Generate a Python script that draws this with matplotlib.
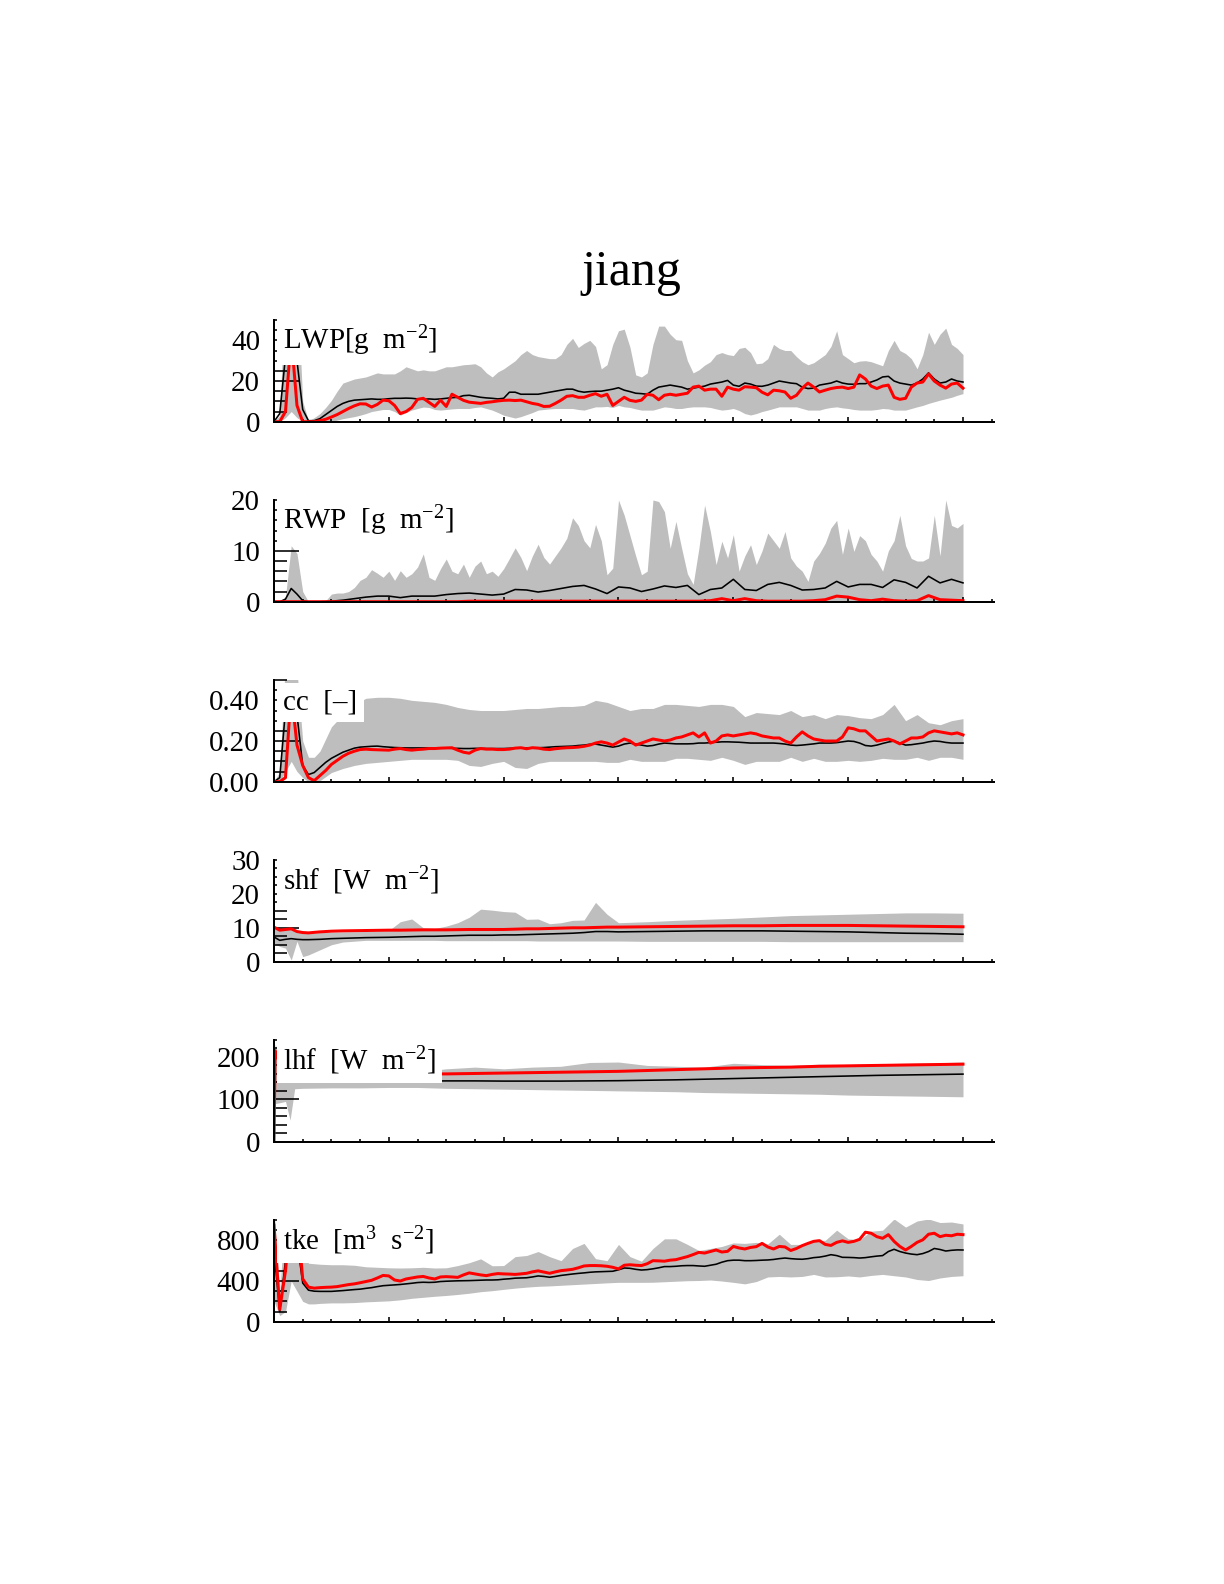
import numpy as np
import matplotlib.pyplot as plt
from matplotlib.ticker import MultipleLocator, FixedLocator, FormatStrFormatter, NullFormatter

plt.rcParams['font.family'] = ['Liberation Serif', 'DejaVu Serif']
plt.rcParams['mathtext.fontset'] = 'custom'
plt.rcParams['mathtext.rm'] = 'Liberation Serif'
plt.rcParams['mathtext.it'] = 'Liberation Serif:italic'

# ----------------------------
# time axes [h]
# ----------------------------
t_early = [0.0, 0.05, 0.1, 0.15, 0.2, 0.25, 0.3, 0.35, 0.4]
t_late = [round(0.5 + 0.1 * i, 2) for i in range(56)]
t = np.array(t_early + t_late)            # 0.1 h steps after 0.5 h
t_fine = np.round(np.arange(121) * 0.05, 2)   # 0.05 h steps
t_shf = [0, 0.05, 0.1, 0.15, 0.2, 0.25, 0.3, 0.4, 0.5, 0.6, 0.8,
         1.0, 1.1, 1.2, 1.3, 1.4, 1.5, 1.6, 1.7, 1.8, 1.9, 2.0, 2.1, 2.2, 2.3, 2.4,
         2.5, 2.6, 2.7, 2.8, 2.9, 3.0,
         3.25, 3.5, 3.75, 4.0, 4.25, 4.5, 4.75, 5.0, 5.25, 5.5, 5.75, 6.0]
t_lhf = [0, 0.01, 0.05, 0.1, 0.14, 0.18, 0.25, 0.5, 0.75, 1.0, 1.25, 1.5, 1.75, 2.0,
         2.25, 2.5, 2.75, 3.0, 3.25, 3.5, 3.75, 4.0, 4.25, 4.5, 4.75, 5.0, 5.25,
         5.5, 5.75, 6.0]

# ----------------------------
# LWP [g m-2]  (fine grid)
# ----------------------------
lwp_max = [0, 3, 70, 80, 70, 10, 0.5, 2, 4, 7,
           10.5, 15, 19, 20, 21, 21.5, 22, 23, 24, 23.5,
           23.5, 23.5, 25, 27, 26, 25, 25.5, 25, 25, 26,
           27, 27, 27.5, 28, 28.2, 28.5, 27, 24, 22, 24.5,
           26, 28, 30, 33, 35, 33, 32, 31.5, 31, 31,
           33, 38, 41, 36.5, 38.5, 40, 37, 26, 28, 38,
           44.7, 45.5, 36.6, 23, 22, 24, 38, 47, 47, 43,
           40.3, 40, 30, 24, 25.5, 27.8, 29.5, 33, 34, 33,
           32.5, 36, 36.6, 34, 28.5, 28.8, 31, 38, 36, 35,
           35, 32, 29.5, 28, 29, 31, 33, 37, 44.7, 33,
           31, 29, 29.8, 30, 29.5, 28.5, 27.5, 35, 40, 35,
           33.5, 31, 26, 33, 44, 38, 43, 46, 38, 36,
           33]
lwp_min = [0, 0, 2, 5, 2, 0, 0, 0, 0, 0,
           0, 0.8, 1.5, 2, 2.5, 3.2, 4, 5, 5.5, 6,
           6, 5, 3.2, 4.5, 5.7, 6.5, 7.2, 7, 6, 5.7,
           6, 6.3, 6.5, 6.5, 6.5, 7, 7.3, 6.5, 5.7, 4.5,
           3.2, 2.5, 1.8, 2.5, 3.5, 4.5, 5.7, 6, 6.3, 6.5,
           6.5, 6.5, 6.5, 6, 5.7, 6.5, 7.3, 7.3, 7.5, 7,
           8, 7.3, 7, 6.3, 5.7, 5.7, 5.7, 6.5, 7.3, 7,
           6.5, 6.5, 7, 7.3, 7.3, 7.3, 7, 6.3, 5.7, 6,
           6.5, 5.5, 4, 3.3, 4, 5, 5.7, 6.5, 7.3, 7.3,
           7.3, 7.3, 6.5, 5.7, 5.7, 5.7, 6.5, 7, 7.3, 6.8,
           6.5, 6, 5.7, 5.7, 5.7, 6, 6.5, 6.3, 5.7, 5.7,
           5.7, 6.5, 7.3, 8, 9, 9.8, 10.6, 11.3, 12, 13,
           13.8]
lwp_mean = [0, 4, 32, 42, 30, 6, 0.5, 0.5, 1.5, 3.5,
            5.5, 7.5, 9, 10, 10.6, 10.8, 11, 11.2, 11, 11,
            11.3, 11.5, 11.5, 11.6, 11.5, 11.2, 11, 11.2, 11, 11.2,
            11.5, 11.8, 12, 12.8, 13, 12.5, 12, 11.7, 11.5, 11.2,
            11.5, 14.5, 14.5, 13.5, 13.5, 13.5, 13.5, 14, 14.5, 15,
            15.5, 16, 16, 15, 14.5, 14.8, 15, 15, 15.5, 16,
            16.7, 15.5, 14.8, 14, 13.8, 13.5, 15.5, 17, 17.5, 18,
            17.5, 17, 16, 16.5, 17, 17.5, 18.5, 19, 19.5, 20.3,
            18, 17.4, 19, 18.5, 17.5, 17.4, 18, 19, 20, 19.5,
            19, 18.7, 17, 16.3, 16.5, 18, 18.5, 19, 20, 19,
            18.5, 18.4, 18.7, 18.7, 19.5, 20.5, 22, 22.3, 20, 19,
            18.5, 18, 19, 21, 24, 21, 19, 19.5, 21, 20,
            19.5]
lwp_model = [0, 0, 5, 42, 8, 0, 0, 0, 0.5, 1.2,
             2.3, 3.5, 5, 6.5, 7.8, 8.8, 8.7, 7.2, 8.5, 10.6,
             10.3, 8, 4, 5, 7, 11, 11.5, 9.5, 7.5, 10.6,
             7.5, 13.5, 12, 10.5, 9.6, 9.3, 9, 9.5, 9.8, 10.2,
             10.5, 10.6, 10.4, 10.6, 9.8, 9, 8.5, 7.5, 7.6, 9,
             10.6, 12.5, 12.8, 12, 12, 13, 13.8, 12.5, 13.5, 8,
             10, 12, 10.5, 10, 10.6, 13.5, 13, 10.8, 13, 13.5,
             13, 13.5, 14, 17, 17.5, 15.5, 16, 16, 12.5, 17,
             16, 15.5, 17.2, 17, 16.7, 14.5, 13.2, 15.5, 15.2, 14.6,
             11.5, 13, 16.5, 19, 17, 14.6, 15.5, 16.3, 16.8, 17,
             16.3, 17, 23, 21, 17.5, 16.3, 17.5, 18, 12, 11,
             11.5, 17, 19, 19.5, 23.5, 20, 18, 16.5, 18.5, 19,
             16.5]

# ----------------------------
# RWP [g m-2]  (band max on the fine grid, band min is zero)
# ----------------------------
rwp_max = [0, 0, 1, 11, 9.5, 2, 0, 0, 0, 0.2,
           1.5, 1.7, 1.7, 2, 2.8, 4.2, 4.8, 6.3, 5.6, 4.8,
           6, 4.2, 6.1, 4.8, 5.5, 6.8, 9.4, 4.8, 4.2, 6.5,
           8.4, 6, 5.5, 7.4, 4.8, 7, 8, 5.5, 6, 5,
           6.5, 8.5, 10.6, 8.7, 6.1, 9, 11.3, 8.7, 7.4, 9,
           10.6, 12.5, 16.5, 15, 12, 10.6, 15.2, 12, 5.3, 6.6,
           20, 17, 13, 9, 5.3, 6, 20, 19.7, 17.7, 10.5,
           15.8, 10.5, 5.5, 3.4, 10.5, 19, 13.8, 7.3, 11.9, 8.6,
           13.2, 6, 9, 11.2, 7.3, 10, 13.5, 12, 10.5, 13.8,
           8.6, 7, 6, 4, 8, 9.5, 11.5, 14.5, 16, 9.3,
           14.5, 9.9, 13, 12, 9.3, 8, 6, 10, 12, 17,
           11, 8.5, 8, 8, 8.6, 17, 9, 20, 15, 14.5,
           15.4]
rwp_mean = [0, 0, 0.5, 2.6, 1.5, 0.2, 0, 0, 0,
            0.1, 0.3, 0.6, 0.9, 1.1, 1.1, 0.8, 1.1, 1.1, 1.1,
            1.4, 1.6, 1.7, 1.5, 1.3, 1.5, 2.4, 2.3, 1.9, 2.2,
            2.6, 3, 3.2, 2.5, 1.6, 2.9, 2.7, 2, 2.5, 3.1,
            2.8, 3.2, 1.4, 2.4, 2.7, 4.4, 2.4, 2.2, 3.4, 3.8,
            3.2, 2.3, 2.4, 2.7, 4, 2.9, 3.4, 3.4, 2.8, 4.3,
            3.8, 2.7, 5, 3.7, 4.4, 3.7]
rwp_model = [0, 0, 0, 0, 0, 0, 0, 0, 0,
             0, 0, 0, 0, 0, 0, 0, 0, 0, 0,
             0, 0, 0.1, 0.1, 0.1, 0.1, 0.1, 0.1, 0.1, 0.1,
             0.1, 0.1, 0.1, 0.1, 0.1, 0.1, 0.1, 0.1, 0.1, 0.1,
             0.1, 0.1, 0.1, 0.2, 0.6, 0.2, 0.6, 0.2, 0.1, 0.1,
             0.1, 0.1, 0.2, 0.4, 1.1, 0.9, 0.4, 0.2, 0.5, 0.2,
             0.1, 0.2, 1.2, 0.4, 0.3, 0.2]

# ----------------------------
# cloud cover [-]  (band on t, lines on the fine grid)
# ----------------------------
cc_max = [0, 0.05, 0.6, 0.6, 0.55, 0.2, 0.12, 0.12, 0.15,
          0.27, 0.33, 0.38, 0.41, 0.415, 0.415, 0.41, 0.40, 0.395, 0.39,
          0.38, 0.365, 0.355, 0.35, 0.35, 0.35, 0.355, 0.36, 0.36, 0.365,
          0.37, 0.37, 0.375, 0.40, 0.39, 0.37, 0.35, 0.36, 0.36, 0.38,
          0.38, 0.375, 0.37, 0.38, 0.38, 0.37, 0.32, 0.34, 0.335, 0.33,
          0.35, 0.32, 0.33, 0.31, 0.33, 0.325, 0.315, 0.31, 0.33, 0.38,
          0.30, 0.33, 0.29, 0.28, 0.30, 0.31]
cc_min = [0, 0, 0.05, 0.1, 0.05, 0.02, 0, 0, 0.005,
          0.045, 0.065, 0.08, 0.09, 0.095, 0.1, 0.105, 0.11, 0.11, 0.11,
          0.11, 0.105, 0.08, 0.075, 0.09, 0.1, 0.07, 0.065, 0.09, 0.1,
          0.1, 0.1, 0.1, 0.1, 0.095, 0.095, 0.11, 0.1, 0.1, 0.1,
          0.115, 0.115, 0.11, 0.105, 0.12, 0.105, 0.085, 0.1, 0.1, 0.1,
          0.12, 0.1, 0.115, 0.1, 0.1, 0.105, 0.1, 0.105, 0.115, 0.11,
          0.11, 0.12, 0.105, 0.12, 0.12, 0.11]
cc_mean = [0, 0.02, 0.35, 0.45, 0.33, 0.08, 0.035, 0.045, 0.07, 0.095,
           0.115, 0.13, 0.145, 0.155, 0.165, 0.17, 0.172, 0.174, 0.175, 0.172,
           0.17, 0.168, 0.167, 0.166, 0.166, 0.166, 0.166, 0.166, 0.166, 0.165,
           0.165, 0.164, 0.164, 0.163, 0.163, 0.164, 0.164, 0.163, 0.163, 0.163,
           0.163, 0.164, 0.165, 0.166, 0.166, 0.167, 0.167, 0.168, 0.17, 0.172,
           0.173, 0.174, 0.175, 0.178, 0.18, 0.184, 0.185, 0.18, 0.175, 0.17,
           0.175, 0.185, 0.19, 0.185, 0.18, 0.175, 0.178, 0.185, 0.19, 0.188,
           0.186, 0.186, 0.186, 0.187, 0.19, 0.19, 0.192, 0.194, 0.196, 0.196,
           0.195, 0.194, 0.192, 0.19, 0.19, 0.19, 0.19, 0.19, 0.188, 0.185,
           0.18, 0.178, 0.18, 0.183, 0.186, 0.19, 0.19, 0.19, 0.192, 0.196,
           0.2, 0.198, 0.19, 0.178, 0.175, 0.18, 0.188, 0.195, 0.2, 0.19,
           0.18, 0.182, 0.186, 0.19, 0.196, 0.2, 0.198, 0.193, 0.19, 0.19,
           0.19]
cc_model = [0, 0, 0.02, 0.45, 0.18, 0.08, 0.02, 0.005, 0.03, 0.055,
            0.085, 0.105, 0.125, 0.14, 0.15, 0.158, 0.16, 0.158, 0.157, 0.156,
            0.155, 0.16, 0.163, 0.158, 0.155, 0.158, 0.16, 0.163, 0.163, 0.165,
            0.166, 0.167, 0.155, 0.145, 0.14, 0.155, 0.163, 0.16, 0.16, 0.158,
            0.158, 0.16, 0.165, 0.167, 0.162, 0.167, 0.165, 0.16, 0.158, 0.162,
            0.165, 0.167, 0.168, 0.17, 0.174, 0.18, 0.19, 0.196, 0.19, 0.18,
            0.195, 0.21, 0.2, 0.18, 0.19, 0.2, 0.21, 0.205, 0.2, 0.205,
            0.215, 0.22, 0.23, 0.24, 0.22, 0.24, 0.19, 0.2, 0.225, 0.23,
            0.225, 0.23, 0.235, 0.24, 0.235, 0.225, 0.22, 0.215, 0.215, 0.2,
            0.19, 0.22, 0.245, 0.225, 0.21, 0.205, 0.2, 0.2, 0.2, 0.22,
            0.265, 0.26, 0.25, 0.25, 0.225, 0.2, 0.205, 0.21, 0.2, 0.186,
            0.2, 0.215, 0.215, 0.22, 0.24, 0.25, 0.245, 0.24, 0.235, 0.24,
            0.23]

# ----------------------------
# sensible heat flux [W m-2]
# ----------------------------
shf_max = [10, 9.5, 9.6, 9.5, 9, 8.6, 8.4, 8.6, 8.7, 8.8, 8.9,
           9.2, 11.8, 12.6, 10, 9.8, 10.5, 11.5, 13.1, 15.5, 15.2, 14.8,
           14.6, 12.5, 12.6, 11.2, 11.5, 12.2, 12.3, 17.5, 14, 11.5,
           11.8, 12.2, 12.5, 12.8, 13.2, 13.6, 13.8, 14, 14.2, 14.4, 14.4, 14.3]
shf_min = [5.5, 4.5, 4, 0.5, 6, 1.5, 2, 3.5, 5, 5.8, 6.3,
           6.3, 6.3, 6.3, 6.3, 6.3, 6.2, 6.2, 6.2, 6.2, 6.2, 6.2,
           6.2, 6.2, 6.1, 6.1, 6.1, 6.1, 6.1, 6.1, 6.1, 6.1,
           6.0, 6.0, 6.0, 6.0, 6.0, 5.9, 5.9, 5.9, 5.9, 5.9, 5.9, 5.9]
shf_mean = [7.3, 6.3, 6.6, 6.8, 6.6, 6.5, 6.5, 6.6, 6.8, 6.9, 7.1,
            7.2, 7.3, 7.4, 7.5, 7.5, 7.6, 7.7, 7.8, 7.8, 7.8, 7.9,
            7.9, 8, 8.1, 8.2, 8.3, 8.4, 8.6, 8.9, 8.9, 8.8,
            8.9, 9, 9.1, 9.1, 9.1, 9, 8.9, 8.8, 8.6, 8.4, 8.3, 8.1]
shf_model = [10.2, 9.3, 9.5, 9.7, 8.9, 8.6, 8.5, 8.8, 9, 9.1, 9.2,
             9.3, 9.3, 9.35, 9.4, 9.4, 9.4, 9.45, 9.5, 9.5, 9.5, 9.5,
             9.6, 9.7, 9.7, 9.8, 9.9, 10, 10, 10.1, 10.2, 10.2,
             10.3, 10.4, 10.5, 10.6, 10.6, 10.7, 10.7, 10.7, 10.6, 10.5, 10.4, 10.3]

# ----------------------------
# latent heat flux [W m-2]
# ----------------------------
lhf_max = [140, 230, 200, 160, 150, 145, 145, 150, 155, 160, 165, 172, 176, 172,
           176, 178, 187, 188, 180, 178, 176, 185, 182, 180, 183, 182, 184,
           185, 186, 188]
lhf_min = [90, 90, 92, 95, 51, 125, 126, 127, 127, 128, 128, 126, 125, 124,
           123, 122, 121, 120, 119, 118, 116, 115, 114, 113, 112, 110, 109,
           108, 107, 106]
lhf_mean = [140, 141, 141, 141, 141, 141, 141, 141, 141, 142, 143, 143.5, 143.5, 143,
            143, 143, 143.5, 144, 145, 146, 147.5, 149, 150.5, 152, 153.5, 155, 156.5,
            157.5, 158.5, 159.5]
lhf_model = [0, 215, 185, 170, 165, 162, 160, 160, 160, 160, 160, 160, 161, 162,
             163, 164, 165, 166, 168, 170, 172, 174, 175, 176, 178, 179, 180,
             181, 182, 183]

# ----------------------------
# turbulent kinetic energy  (band on t, lines on the fine grid)
# ----------------------------
tke_max = [1100, 300, 1100, 1100, 1100, 700, 575, 570, 565,
           560, 560, 555, 540, 535, 530, 528, 530, 535, 528,
           530, 552, 580, 618, 550, 552, 640, 651, 690, 640,
           600, 720, 770, 620, 600, 760, 640, 595, 720, 815,
           815, 760, 700, 720, 740, 775, 770, 780, 765, 860,
           760, 760, 800, 800, 900, 815, 805, 890, 900, 1010,
           930, 990, 1010, 975, 980, 961]
tke_min = [200, 60, 100, 400, 300, 200, 175, 175, 180,
           185, 185, 188, 195, 200, 205, 215, 230, 240, 250,
           258, 268, 280, 295, 305, 318, 330, 340, 348, 352,
           358, 364, 370, 376, 382, 387, 387, 387, 388, 393,
           398, 403, 405, 410, 400, 387, 372, 395, 440, 445,
           440, 445, 465, 440, 442, 450, 440, 455, 465, 452,
           440, 415, 405, 430, 445, 452]
tke_mean = [700, 100, 600, 900, 800, 380, 310, 300, 298, 298,
            298, 302, 306, 311, 316, 320, 328, 335, 345, 354,
            358, 362, 366, 372, 378, 385, 388, 386, 388, 395,
            398, 400, 402, 403, 404, 406, 408, 410, 410, 412,
            418, 422, 428, 430, 432, 440, 450, 445, 437, 445,
            455, 462, 469, 475, 480, 486, 490, 492, 494, 496,
            510, 528, 525, 515, 508, 512, 520, 530, 542, 542,
            545, 550, 552, 552, 548, 545, 555, 565, 585, 600,
            605, 605, 600, 600, 602, 605, 607, 612, 620, 626,
            620, 616, 614, 620, 630, 635, 645, 659, 650, 633,
            632, 630, 626, 630, 638, 645, 650, 690, 712, 690,
            675, 665, 659, 670, 690, 720, 710, 695, 702, 706,
            705]
tke_model = [950, 120, 500, 1100, 1050, 420, 340, 330, 335, 338,
             340, 345, 355, 365, 372, 383, 395, 407, 430, 455,
             450, 410, 400, 420, 430, 440, 445, 430, 420, 440,
             443, 440, 436, 460, 480, 470, 460, 453, 465, 473,
             470, 468, 465, 470, 476, 490, 500, 488, 476, 490,
             502, 508, 515, 530, 548, 552, 552, 550, 545, 535,
             519, 555, 560, 555, 552, 570, 600, 598, 595, 605,
             610, 625, 640, 660, 682, 675, 690, 705, 685, 692,
             740, 725, 715, 730, 738, 770, 735, 715, 740, 735,
             700, 720, 748, 770, 790, 797, 760, 750, 780, 795,
             780, 790, 810, 880, 870, 836, 820, 856, 790, 740,
             705, 740, 780, 805, 860, 870, 836, 850, 845, 860,
             856]

panels = [
    dict(label='LWP[g  m$^{-2}$]', tb=t_fine, tl=t_fine, lo=lwp_min, hi=lwp_max,
         mean=lwp_mean, model=lwp_model, ylim=50, ticks=[0, 20, 40], minor=5, fmt='%d'),
    dict(label='RWP  [g  m$^{-2}$]', tb=t_fine, tl=t, lo=None, hi=rwp_max,
         mean=rwp_mean, model=rwp_model, ylim=20, ticks=[0, 10, 20], minor=2, fmt='%d'),
    dict(label='cc  [\u2013]', tb=t, tl=t_fine, lo=cc_min, hi=cc_max,
         mean=cc_mean, model=cc_model, ylim=0.5, ticks=[0, 0.2, 0.4], minor=0.05, fmt='%.2f'),
    dict(label='shf  [W  m$^{-2}$]', tb=t_shf, tl=t_shf, lo=shf_min, hi=shf_max,
         mean=shf_mean, model=shf_model, ylim=30, ticks=[0, 10, 20, 30], minor=2.5, fmt='%d'),
    dict(label='lhf  [W  m$^{-2}$]', tb=t_lhf, tl=t_lhf, lo=lhf_min, hi=lhf_max,
         mean=lhf_mean, model=lhf_model, ylim=240, ticks=[0, 100, 200], minor=20, fmt='%d'),
    dict(label='tke  [m$^{3}$  s$^{-2}$]', tb=t, tl=t_fine, lo=tke_min, hi=tke_max,
         mean=tke_mean, model=tke_model, ylim=1000, ticks=[0, 400, 800], minor=100, fmt='%d'),
]

W, H = 1224, 1584
fig = plt.figure(figsize=(W / 144, H / 144), dpi=144)

left_px, right_px = 274, 994
for k, p in enumerate(panels):
    bottom_px = 421.7 + 180 * k
    ax = fig.add_axes([left_px / W, 1 - bottom_px / H,
                       (right_px - left_px) / W, 101.7 / H])

    # ensemble range, ensemble mean, this model
    lower = 0 if p['lo'] is None else p['lo']
    ax.fill_between(p['tb'], lower, p['hi'], color='#bebebe', lw=0, zorder=1)
    ax.plot(p['tl'], p['mean'], color='black', lw=0.8, zorder=2)
    ax.plot(p['tl'], p['model'], color='red', lw=1.5, zorder=2.2)

    ax.set_xlim(0, 6.27)
    ax.set_ylim(0, p['ylim'])
    ax.spines['top'].set_visible(False)
    ax.spines['right'].set_visible(False)
    ax.spines['left'].set_linewidth(1.0)
    ax.spines['bottom'].set_linewidth(1.0)

    ax.yaxis.set_major_locator(FixedLocator(p['ticks']))
    ax.yaxis.set_minor_locator(MultipleLocator(p['minor']))
    ax.yaxis.set_major_formatter(FormatStrFormatter(p['fmt']))
    ax.xaxis.set_major_locator(MultipleLocator(1))
    ax.xaxis.set_minor_locator(MultipleLocator(0.25))
    ax.xaxis.set_major_formatter(NullFormatter())
    ax.tick_params(axis='y', which='major', direction='in', length=12.5, width=0.8,
                   labelsize=14.5, pad=7, right=False)
    ax.tick_params(axis='y', which='minor', direction='in', length=6.5, width=0.8, right=False)
    ax.tick_params(axis='x', which='major', direction='in', length=2.5, width=0.8, top=False)
    ax.tick_params(axis='x', which='minor', direction='in', length=1.3, width=0.8, top=False)

    ax.text(0.0125, 0.71, p['label'], transform=ax.transAxes, fontsize=14.5,
            ha='left', va='baseline', zorder=5,
            bbox=dict(facecolor='white', edgecolor='none', boxstyle='square,pad=0.22'))

fig.text(0.5155, 0.8201, 'jiang', ha='center', va='baseline', fontsize=25)

fig.savefig('out.png', dpi=144)
